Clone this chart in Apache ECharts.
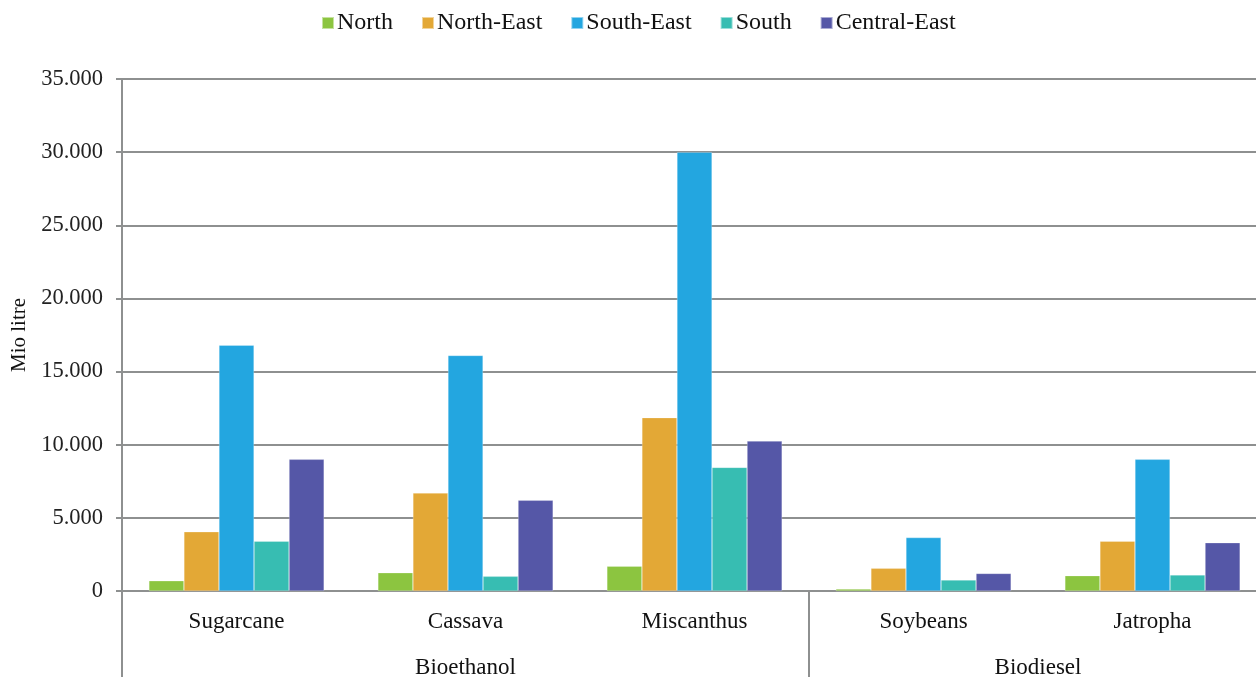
<!DOCTYPE html>
<html>
<head>
<meta charset="utf-8">
<title>Biofuel potential by region</title>
<script src="https://cdn.jsdelivr.net/npm/echarts@6/dist/echarts.min.js"></script>
<style>
  html, body { margin: 0; padding: 0; background: #ffffff; }
  #chart { width: 1256px; height: 677px; }
</style>
</head>
<body>
<div id="chart"></div>
<script>
// Feedstocks (x categories) and the fuel groups they belong to
const crops = ['Sugarcane', 'Cassava', 'Miscanthus', 'Soybeans', 'Jatropha'];
const fuelGroups = ['Bioethanol', 'Biodiesel'];
const groupSizes = [3, 2];

// Potential per region, Mio litre
const regions = ['North', 'North-East', 'South-East', 'South', 'Central-East'];
const north       = [700, 1250, 1700, 130, 1050];
const northEast   = [4050, 6700, 11850, 1550, 3400];
const southEast   = [16800, 16100, 30000, 3650, 9000];
const south       = [3400, 1000, 8450, 750, 1100];
const centralEast = [9000, 6200, 10250, 1200, 3300];

// Y-axis ticks
const yTicks = [0, 5000, 10000, 15000, 20000, 25000, 30000, 35000];

const colors = ['#8CC540', '#E3A836', '#23A6E0', '#37BDB2', '#5557A7'];
const seriesValues = [north, northEast, southEast, south, centralEast];

const FONT = 'Liberation Serif';
const AXIS_GREY = '#8e9090';

// group centres and boundaries on a 0..n value scale spanning the category axis
const groupCentres = [];
const groupBounds = [0];
let acc = 0;
groupSizes.forEach(function (n) {
  groupCentres.push(acc + n / 2);
  acc += n;
  groupBounds.push(acc);
});
groupBounds.pop();

function fmtThousands(v) {
  return String(v).replace(/\B(?=(\d{3})+(?!\d))/g, '.');
}

const chart = echarts.init(document.getElementById('chart'), null, { renderer: 'canvas' });

chart.setOption({
  animation: false,
  color: colors,
  textStyle: { fontFamily: FONT },
  legend: {
    data: regions,
    top: 6,
    left: 316,
    itemWidth: 12,
    itemHeight: 12,
    itemGap: 28,
    icon: 'rect',
    textStyle: { fontFamily: FONT, fontSize: 24, color: '#111', padding: [0, 0, 0, -2] }
  },
  grid: { left: 122, right: -11, top: 79, bottom: 86, containLabel: false, outerBoundsMode: 'none' },
  xAxis: [
    {
      type: 'category',
      data: crops,
      position: 'bottom',
      axisLine: { show: true, lineStyle: { color: AXIS_GREY, width: 2 } },
      axisTick: { show: false },
      axisLabel: { fontFamily: FONT, fontSize: 23, color: '#111', margin: 19 }
    },
    {
      type: 'value',
      min: 0,
      max: crops.length,
      position: 'bottom',
      axisLine: { show: false },
      splitLine: { show: false },
      axisTick: {
        show: true,
        customValues: groupBounds,
        length: 86,
        lineStyle: { color: AXIS_GREY, width: 2 }
      },
      axisLabel: {
        customValues: groupCentres,
        margin: 65,
        fontFamily: FONT,
        fontSize: 23,
        color: '#111',
        formatter: function (v) {
          const i = groupCentres.indexOf(v);
          return i >= 0 ? fuelGroups[i] : '';
        }
      }
    }
  ],
  yAxis: {
    type: 'value',
    min: yTicks[0],
    max: yTicks[yTicks.length - 1],
    interval: yTicks[1] - yTicks[0],
    name: 'Mio litre',
    nameLocation: 'middle',
    nameGap: 86,
    nameRotate: 90,
    nameTextStyle: { fontFamily: FONT, fontSize: 21, color: '#111' },
    axisLine: { show: true, lineStyle: { color: AXIS_GREY, width: 2 } },
    axisTick: { show: true, length: 6, lineStyle: { color: AXIS_GREY, width: 2 } },
    axisLabel: {
      fontFamily: FONT,
      fontSize: 22.5,
      color: '#222',
      margin: 19,
      formatter: fmtThousands
    },
    splitLine: { show: true, lineStyle: { color: AXIS_GREY, width: 2 } }
  },
  series: regions.map(function (name, i) {
    return {
      name: name,
      type: 'bar',
      xAxisIndex: 0,
      data: seriesValues[i],
      barGap: '0%',
      barCategoryGap: '23.5%',
      itemStyle: { color: colors[i], borderColor: 'rgba(255,255,255,0.5)', borderWidth: 0.5 }
    };
  })
});
</script>
</body>
</html>
